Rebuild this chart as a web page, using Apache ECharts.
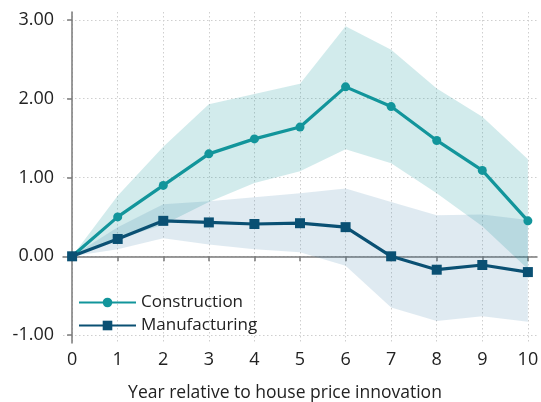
<!DOCTYPE html>
<html>
<head>
<meta charset="utf-8">
<script src="https://cdn.jsdelivr.net/npm/echarts@6/dist/echarts.min.js"></script>
<style>
  html, body { margin: 0; padding: 0; background: #fff; }
  #chart { width: 541px; height: 402px; }
</style>
</head>
<body>
<div id="chart"></div>
<script>
// Impulse responses to a house price innovation, with confidence bands
const years = [0, 1, 2, 3, 4, 5, 6, 7, 8, 9, 10];
const yTicks = [-1, 0, 1, 2, 3];

const construction     = [0, 0.50, 0.90, 1.30, 1.49, 1.64, 2.15, 1.90, 1.47, 1.09, 0.45];
const constructionLow  = [0, 0.22, 0.40, 0.69, 0.93, 1.08, 1.36, 1.18, 0.80, 0.38, -0.16];
const constructionHigh = [0, 0.77, 1.39, 1.93, 2.06, 2.19, 2.92, 2.62, 2.13, 1.77, 1.23];

const manufacturing     = [0, 0.22, 0.45, 0.43, 0.41, 0.42, 0.37, 0.00, -0.17, -0.11, -0.20];
const manufacturingLow  = [0, 0.09, 0.23, 0.15, 0.09, 0.05, -0.12, -0.65, -0.82, -0.76, -0.83];
const manufacturingHigh = [0, 0.37, 0.66, 0.70, 0.75, 0.80, 0.86, 0.69, 0.52, 0.53, 0.46];

const TEAL = '#12959b';
const NAVY = '#0a5073';
const NAVY_BAND = '#2a74a0';
const FONT = '"Open Sans", "Noto Sans", sans-serif';
const AXIS = '#7a7a7a';

const pairs = (vals) => years.map((x, i) => [x, vals[i]]);

// A confidence band drawn as one filled polygon: upper edge forward, lower edge back
function band(name, lo, hi, color, opacity) {
  return {
    name: name, type: 'custom', silent: true, z: 1,
    data: years.map((x, i) => [x, lo[i], hi[i]]),
    encode: { x: 0, y: [1, 2] },
    renderItem: (params, api) => {
      if (params.dataIndex !== 0) return null;
      const upper = years.map((x, i) => api.coord([x, hi[i]]));
      const lower = years.map((x, i) => api.coord([x, lo[i]])).reverse();
      return {
        type: 'polygon',
        shape: { points: upper.concat(lower) },
        style: { fill: color, opacity: opacity }
      };
    }
  };
}

const chart = echarts.init(document.getElementById('chart'), null, { renderer: 'canvas' });

chart.setOption({
  animation: false,
  backgroundColor: '#fff',
  textStyle: { fontFamily: FONT },
  grid: { left: 63, right: 4, top: 12, bottom: 59, outerBoundsMode: 'none', containLabel: false },
  legend: {
    data: ['Construction', 'Manufacturing'],
    orient: 'vertical',
    left: 73, top: 289,
    itemWidth: 57, itemHeight: 12, itemGap: 6,
    textStyle: { fontFamily: FONT, fontSize: 17, color: '#222' }
  },
  xAxis: {
    type: 'value', min: -0.2, max: 10.2,
    name: 'Year relative to house price innovation',
    nameLocation: 'middle', nameGap: 41,
    nameTextStyle: { fontFamily: FONT, fontSize: 17.5, color: '#222', padding: [0, 30, 0, 0] },
    axisLine: { lineStyle: { color: AXIS, width: 1.5 } },
    axisTick: { customValues: years, length: 5, lineStyle: { color: AXIS, width: 1.5 } },
    axisLabel: { customValues: years, fontSize: 18, color: '#222', margin: 8, fontFamily: FONT },
    splitLine: { show: true, lineStyle: { color: '#cfcfcf', type: [1.5, 2.5], width: 1 } }
  },
  yAxis: {
    type: 'value', min: -1.1, max: 3.1,
    axisLine: { show: true, lineStyle: { color: AXIS, width: 1.5 } },
    axisTick: { show: true, customValues: yTicks, length: 5, lineStyle: { color: AXIS, width: 1.5 } },
    axisLabel: {
      customValues: yTicks, fontSize: 18, color: '#222', margin: 9, fontFamily: FONT,
      formatter: (v) => v.toFixed(2)
    },
    splitLine: { show: true, lineStyle: { color: '#cfcfcf', type: [1.5, 2.5], width: 1 } }
  },
  series: [
    band('Construction band', constructionLow, constructionHigh, TEAL, 0.19),
    band('Manufacturing band', manufacturingLow, manufacturingHigh, NAVY_BAND, 0.15),
    {
      name: 'Construction', type: 'line', data: pairs(construction),
      color: TEAL, lineStyle: { width: 3.2, color: TEAL },
      symbol: 'circle', symbolSize: 9, itemStyle: { color: TEAL }, z: 5
    },
    {
      name: 'Manufacturing', type: 'line', data: pairs(manufacturing),
      color: NAVY, lineStyle: { width: 3.2, color: NAVY },
      symbol: 'rect', symbolSize: 10, itemStyle: { color: NAVY }, z: 6
    }
  ]
});
</script>
</body>
</html>
